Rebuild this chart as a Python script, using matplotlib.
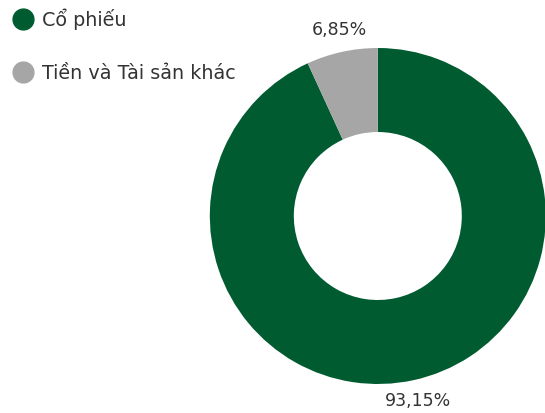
import matplotlib
matplotlib.use('Agg')
import matplotlib.pyplot as plt
from matplotlib.lines import Line2D

plt.rcParams['font.family'] = ['DejaVu Sans']

# DATA
labels = ['Cổ phiếu', 'Tiền và Tài sản khác']
values = [93.15, 6.85]
value_labels = ['93,15%', '6,85%']
colors = ['#005c30', '#a6a6a6']

fig = plt.figure(figsize=(5.45, 4.13), dpi=100)
ax = fig.add_axes([0.385, 0.0702, 0.6165, 0.8136])

wedges, _ = ax.pie(values, colors=colors, startangle=90, counterclock=False,
                   radius=1, wedgeprops=dict(width=0.5, edgecolor='none'))

# percentage labels outside the ring
ax.text(0.238, -1.10, value_labels[0], ha='center', va='center', fontsize=12.5, color='#333333')
ax.text(-0.226, 1.107, value_labels[1], ha='center', va='center', fontsize=12.5, color='#333333')

ax.set_xlim(-1, 1)
ax.set_ylim(-1, 1)
ax.set_aspect('equal')
ax.axis('off')

# legend top-left with round markers
handles = [Line2D([], [], marker='o', linestyle='none', markersize=15,
                  markerfacecolor=c, markeredgecolor=c) for c in colors]
fig.legend(handles, labels, loc='upper left', bbox_to_anchor=(0.008, 1.0),
           frameon=False, fontsize=13.8, handlelength=1.0, handletextpad=0.5,
           labelspacing=1.75, borderaxespad=0.05, labelcolor='#333333')

fig.savefig('out.png', dpi=100)
